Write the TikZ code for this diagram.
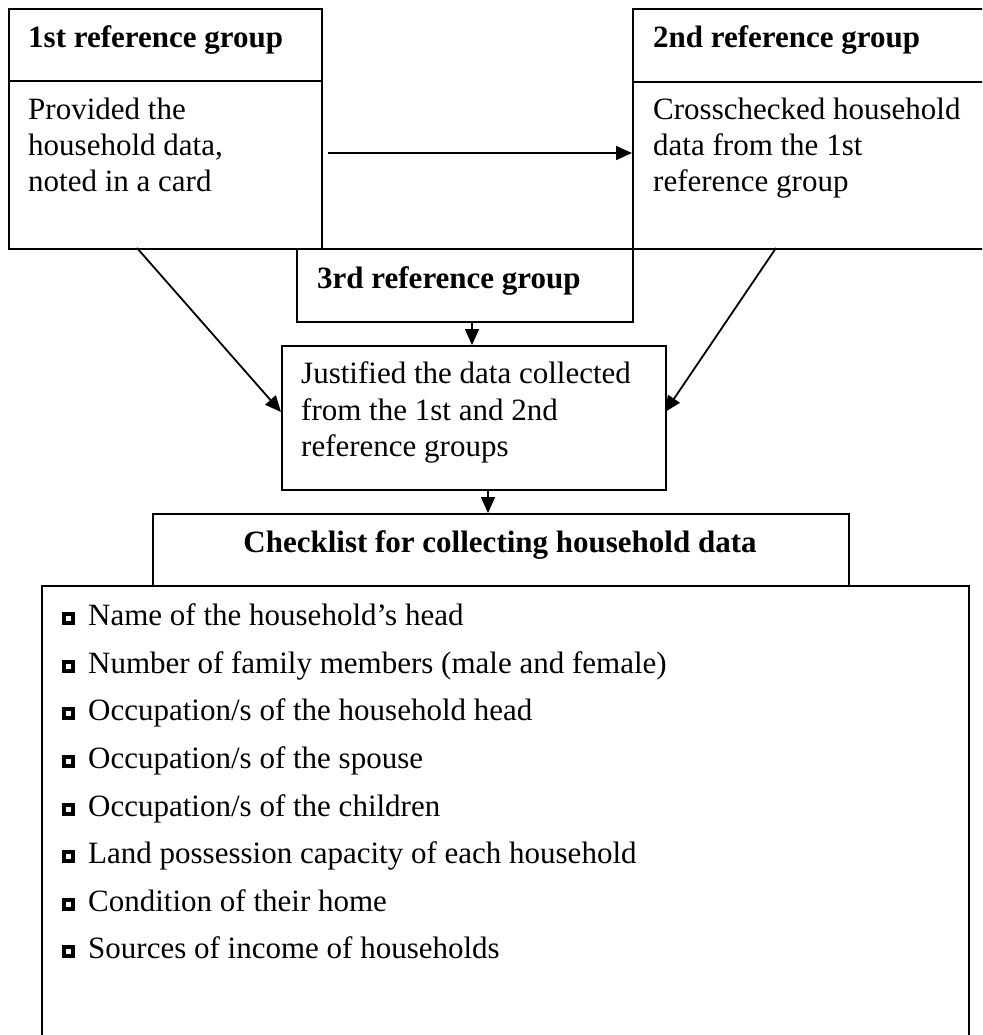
\documentclass[tikz,border=0pt]{standalone}
\usepackage{fontspec}
\setmainfont{Liberation Serif}
\usetikzlibrary{arrows.meta,calc}
\begin{document}
\begin{tikzpicture}[x=1pt,y=-1pt,
  box/.style={draw, line width=2pt, inner sep=0pt, anchor=north west},
  txt/.style={anchor=base west, inner sep=0pt, font=\fontsize{31}{36}\selectfont},
  btxt/.style={anchor=base west, inner sep=0pt, font=\fontsize{31}{36}\selectfont\bfseries},
  arr/.style={line width=1.8pt, -{Triangle[length=16pt,width=14pt]}},
  bulout/.style={fill=black, minimum size=13pt, inner sep=0pt, anchor=center},
  bulin/.style={fill=white, minimum size=5pt, inner sep=0pt, anchor=center}]
\clip (0,0) rectangle (982,1035);
\fill[white] (0,0) rectangle (982,1035);

% boxes
\node[box, minimum width=313pt, minimum height=240pt] (b1) at (8,8) {};
\draw[line width=2pt] (8,81) -- (321,81);
\node[box, minimum width=400pt, minimum height=240pt] (b2) at (632,8) {};
\draw[line width=2pt] (632,82) -- (1040,82);
\node[box, minimum width=336pt, minimum height=73pt] (b3) at (296,248) {};
\node[box, minimum width=384pt, minimum height=144pt] (J) at (281,345) {};
\node[box, minimum width=696pt, minimum height=72pt] (H) at (152,513) {};
\node[box, minimum width=927pt, minimum height=480pt] (L) at (41,585) {};

% texts
\node[btxt] (t1h) at (28,48) {1st reference group};
\node[txt] (t1a) at (28,120) {Provided the};
\node[txt] (t1b) at (28,156) {household data,};
\node[txt] (t1c) at (28,192) {noted in a card};

\node[btxt] (t2h) at (653,48) {2nd reference group};
\node[txt] (t2a) at (653,120) {Crosschecked household};
\node[txt] (t2b) at (653,156) {data from the 1st};
\node[txt] (t2c) at (653,192) {reference group};

\node[btxt] (t3h) at (317,288) {3rd reference group};

\node[txt] (tja) at (301,383) {Justified the data collected};
\node[txt] (tjb) at (301,420) {from the 1st and 2nd};
\node[txt] (tjc) at (301,456) {reference groups};

\node[btxt, anchor=base] (th) at (500,552) {Checklist for collecting household data};

% list items
\foreach \i/\yy/\t in {1/625/{Name of the household’s head},
  2/673/{Number of family members (male and female)},
  3/720/{Occupation/s of the household head},
  4/768/{Occupation/s of the spouse},
  5/816/{Occupation/s of the children},
  6/863/{Land possession capacity of each household},
  7/911/{Condition of their home},
  8/958/{Sources of income of households}}{
  \node[bulout] (bo\i) at (68.5,\yy-6.5) {};
  \node[bulin] (bi\i) at (bo\i.center) {};
  \node[txt] (li\i) at (88,\yy) {\t};
}

% connectors
\coordinate (h1) at (328,153);
\draw[arr] (h1) -- (h1 -| b2.west);
\coordinate (d1s) at (137,248);
\coordinate (d1e) at (281,412);
\draw[arr] (d1s) -- (d1e);
\coordinate (d2s) at (776,248);
\coordinate (d2e) at (665,412);
\draw[arr] (d2s) -- (d2e);
\coordinate (v1) at (472,321);
\draw[arr] (v1) -- (v1 |- J.north);
\coordinate (v2) at (488,489);
\draw[arr] (v2) -- (v2 |- H.north);
\end{tikzpicture}
\end{document}
